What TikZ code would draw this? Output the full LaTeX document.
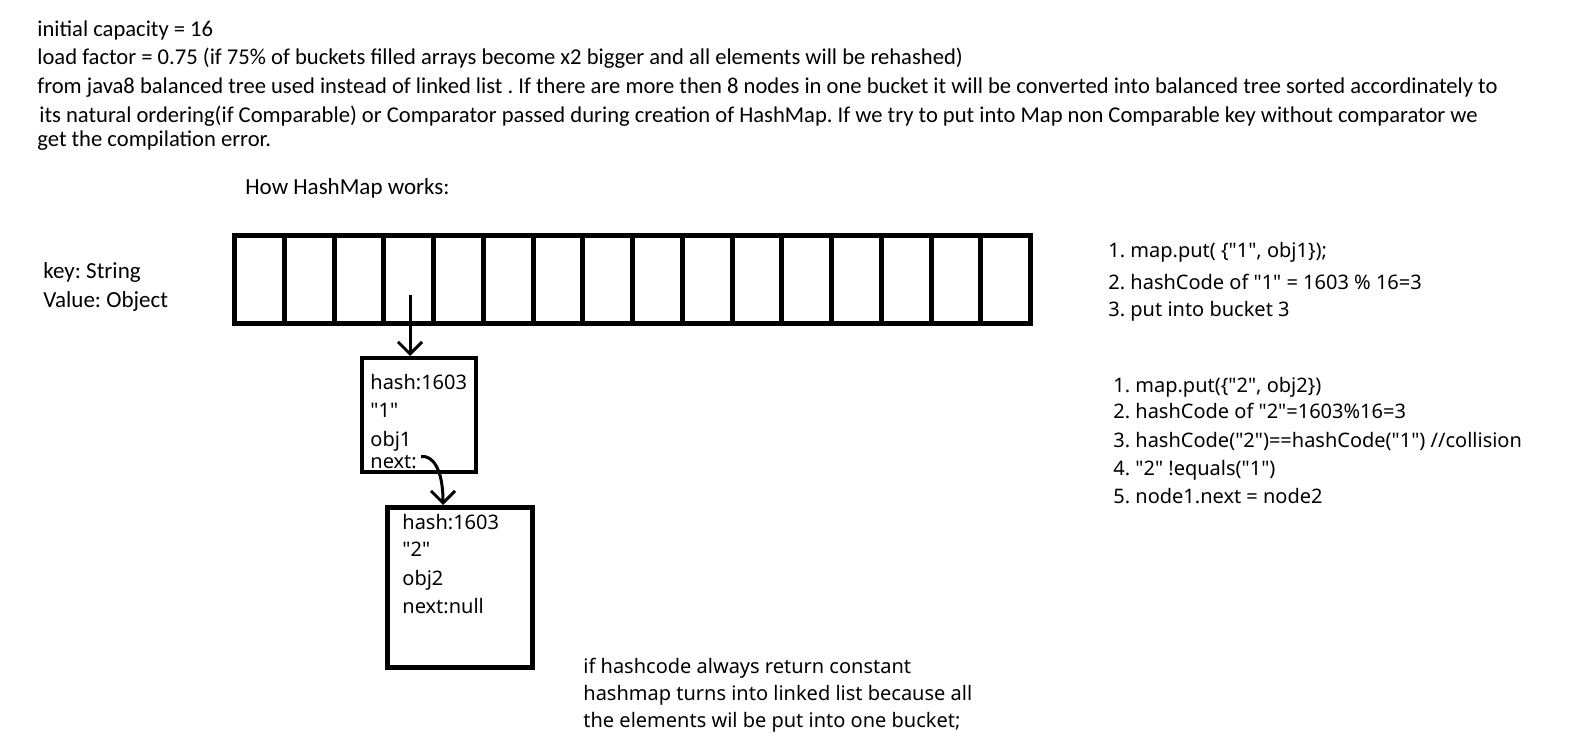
\documentclass[tikz,border=0pt]{standalone}
\usepackage{fontspec}
\setmainfont{Carlito}
\newfontfamily\segfont{Noto Sans}
\usetikzlibrary{arrows.meta}
\frenchspacing

\begin{document}
\begin{tikzpicture}[x=0.5pt,y=-0.5pt,
    note/.style={anchor=base west,inner sep=0pt,font=\fontsize{11.3}{14}\selectfont},
    label/.style={anchor=base west,inner sep=0pt,font=\fontsize{11.5}{14}\selectfont},
    code/.style={anchor=base west,inner sep=0pt,font=\segfont\fontsize{10}{12}\selectfont},
    cell/.style={draw,line width=2.5pt,inner sep=0pt,minimum width=24.875pt,minimum height=43.75pt},
    entry/.style={draw,inner sep=0pt},
    link/.style={line width=1.5pt,-{Straight Barb[length=6pt,width=12pt]}}]
    \useasboundingbox (0,0) rectangle (1572,737);

    % Notes on top
    \node[note] (cap) at (37,37) {initial capacity = 16};
    \node[note] (load) at (37,65) {load factor = 0.75 (if 75\% of buckets filled arrays become x2 bigger and all elements will be rehashed)};
    \node[note] (tree1) at (37,94) {from java8 balanced tree used instead of linked list . If there are more then 8 nodes in one bucket it will be converted into balanced tree sorted accordinately to};
    \node[note] (tree2) at (39,123) {its natural ordering(if Comparable) or Comparator passed during creation of HashMap. If we try to put into Map non Comparable key without comparator we};
    \node[note] (tree3) at (37,147) {get the compilation error.};

    \node[label] (title) at (245,195) {How HashMap works:};
    \node[label] (keytype) at (43,279) {key: String};
    \node[label] (valtype) at (43,307) {Value: Object};

    % Bucket array
    \foreach \i in {0,...,15}
        \node[cell] (cell\i) at ({234.5+49.75*(\i+0.5)},279.75) {};

    % First node
    \node[entry,line width=2pt,minimum width=57.25pt,minimum height=57pt] (node1) at (418.75,415) {};
    \node[code] (n1hash) at (370,389) {hash:1603};
    \node[code] (n1key) at (370,417) {"1"};
    \node[code] (n1val) at (370,446) {obj1};
    \node[code] (n1next) at (370,468) {next:};

    % Second node
    \node[entry,line width=2.5pt,minimum width=72.5pt,minimum height=80pt] (node2) at (460,587.5) {};
    \node[code] (n2hash) at (402,529) {hash:1603};
    \node[code] (n2key) at (402,556) {"2"};
    \node[code] (n2val) at (402,585) {obj2};
    \node[code] (n2next) at (402,613) {next:null};

    % Arrows
    \coordinate (hook) at (410,295);
    \draw[link] (hook) -- (hook |- node1.north);
    \draw[link] ([xshift=2pt,yshift=2.5pt]n1next.east) .. controls (432,455) and (443,468) .. ([xshift=-8.5pt]node2.north);

    % Steps on the right
    \node[code] (put1) at (1108,258) {1.\ map.put( \{"1", obj1\});};
    \node[code] (hash1) at (1108,290) {2. hashCode of "1" = 1603 \% 16=3};
    \node[code] (bucket1) at (1108,317) {3. put into bucket 3};

    \node[code] (put2) at (1113,392) {1. map.put(\{"2", obj2\})};
    \node[code] (hash2) at (1113,418) {2. hashCode of "2"=1603\%16=3};
    \node[code] (coll2) at (1113,447) {3. hashCode("2")==hashCode("1") //collision};
    \node[code] (eq2) at (1113,475) {4. "2" !equals("1")};
    \node[code] (next2) at (1113,503) {5. node1.next = node2};

    % Note at the bottom
    \node[code] (const1) at (583,673) {if hashcode always return constant};
    \node[code] (const2) at (583,700) {hashmap turns into linked list because all};
    \node[code] (const3) at (583,727) {the elements wil be put into one bucket;};
\end{tikzpicture}
\end{document}
